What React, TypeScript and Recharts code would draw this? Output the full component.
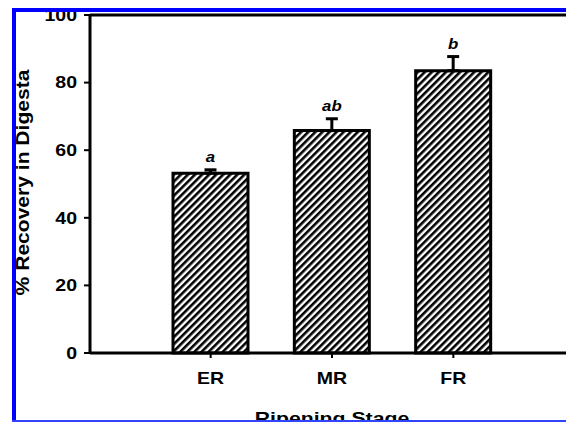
import { BarChart, Bar, XAxis, YAxis, ErrorBar, LabelList, ReferenceLine, Label } from 'recharts'

// ripening stages and recovery values
const stages = ['ER', 'MR', 'FR']
const recovery = [53.2, 65.8, 83.5]
const errUp = [1.0, 3.5, 4.2]
const letters = ['a', 'ab', 'b']
const yTicks = [0, 20, 40, 60, 80, 100]

const data = stages.map((s, i) => ({
  stage: s,
  recovery: recovery[i],
  err: [0, errUp[i]],
  sig: letters[i],
}))

const FONT = "'Liberation Sans', Arial, Helvetica, sans-serif"

// the original's lettering is noticeably wide, so stretch text along its own direction
function Wide({ x, y, sx = 1.22, rotate = 0, anchor = 'middle', size = 16, italic = false, dy, children }: any) {
  return (
    <g transform={`translate(${x},${y}) rotate(${rotate}) scale(${sx},1)`}>
      <text
        x={0}
        y={0}
        dy={dy}
        textAnchor={anchor}
        fontFamily={FONT}
        fontWeight="bold"
        fontStyle={italic ? 'italic' : 'normal'}
        fontSize={size}
        fill="#000"
      >
        {children}
      </text>
    </g>
  )
}

const YTick = (props: any) => {
  const { x, y, payload } = props
  return <Wide x={x} y={y} anchor="end" dy="0.36em">{payload.value}</Wide>
}

const XTick = (props: any) => {
  const { x, y, payload } = props
  return <Wide x={x} y={y} dy="0.7em">{payload.value}</Wide>
}

const SigLabel = (props: any) => {
  const { x, y, width, height, index } = props
  const perUnit = Number(height) / recovery[index]
  const top = Number(y) - errUp[index] * perUnit
  return (
    <Wide x={Number(x) + Number(width) / 2} y={top - 8} size={14} sx={1.2} italic>
      {letters[index]}
    </Wide>
  )
}

const blue = '#0000ff'

export default function App() {
  return (
    <div style={{ position: 'fixed', left: 0, top: 0, width: 566, height: 422, background: '#fff', overflow: 'hidden' }}>
      <BarChart width={566} height={422} data={data} margin={{ top: 15, right: 0, bottom: 0, left: 0 }}>
        <defs>
          <pattern id="hatch" width="5" height="5" patternUnits="userSpaceOnUse" patternTransform="rotate(45)">
            <rect x="0" y="0" width="5" height="5" fill="#fff" />
            <rect x="0" y="0" width="2.6" height="5" fill="#000" />
          </pattern>
        </defs>
        <XAxis
          dataKey="stage"
          padding={{ left: 60, right: 52 }}
          height={69}
          tickSize={5}
          tickMargin={15}
          axisLine={{ stroke: '#000', strokeWidth: 3 }}
          tickLine={{ stroke: '#000', strokeWidth: 2 }}
          tick={<XTick />}
        >
          <Label
            content={(p: any) => {
              const vb = p.viewBox
              return (
                <Wide x={vb.x + vb.width / 2 + 4} y={424} size={17} sx={1.25}>
                  Ripening Stage
                </Wide>
              )
            }}
          />
        </XAxis>
        <YAxis
          type="number"
          domain={[0, 100]}
          ticks={yTicks}
          interval={0}
          width={90}
          tickSize={6}
          tickMargin={7}
          axisLine={{ stroke: '#000', strokeWidth: 3 }}
          tickLine={{ stroke: '#000', strokeWidth: 2 }}
          tick={<YTick />}
        >
          <Label
            content={(p: any) => {
              const vb = p.viewBox
              return (
                <Wide x={29} y={vb.y + vb.height / 2 - 1.5} rotate={-90} size={18} sx={1.17}>
                  % Recovery in Digesta
                </Wide>
              )
            }}
          />
        </YAxis>
        <ReferenceLine y={100} stroke="#000" strokeWidth={3} />
        <Bar dataKey="recovery" barSize={75} fill="url(#hatch)" stroke="#000" strokeWidth={3} isAnimationActive={false}>
          <ErrorBar dataKey="err" direction="y" width={6} stroke="#000" strokeWidth={3} />
          <LabelList dataKey="sig" content={<SigLabel />} />
        </Bar>
      </BarChart>
      {/* blue frame around the cropped figure */}
      <div style={{ position: 'absolute', left: 12, top: 8, width: 3.5, height: 414, background: blue }} />
      <div style={{ position: 'absolute', left: 12, top: 8, width: 554, height: 4, background: blue }} />
      <div style={{ position: 'absolute', left: 12, top: 420, width: 554, height: 1.5, background: '#3344ff' }} />
    </div>
  )
}
